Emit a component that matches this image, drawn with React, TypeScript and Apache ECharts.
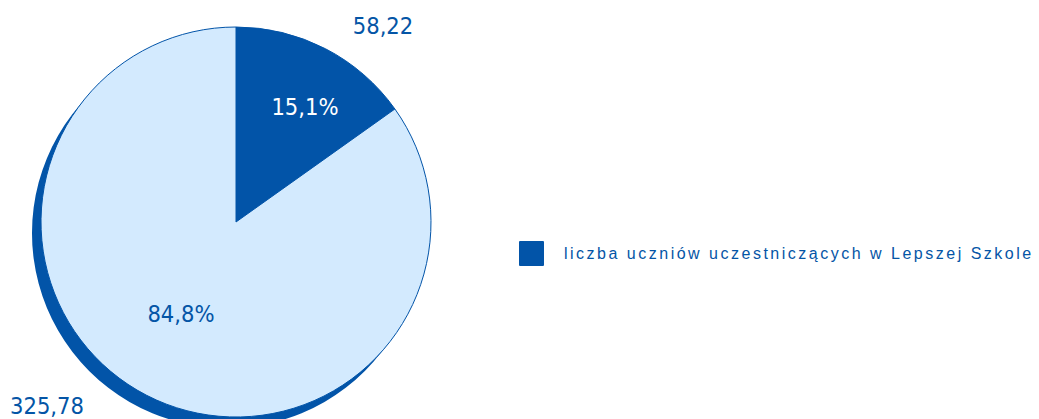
import React, { useEffect, useRef } from "react";
import * as echarts from "echarts";

const categories = [
  "liczba uczniów uczestniczących w Lepszej Szkole",
  "pozostali uczniowie",
];
const values = [58.22, 325.78];
const percentLabels = ["15,1%", "84,8%"];
const legendItems = [categories[0]];

const DARK = "#0254A8";
const LIGHT = "#D3EAFE";
const TEXT = "#0455A6";

const CENTER = [236, 222];
const RADIUS = 195;
const SHADOW_CENTER = [227, 233];
const percentPos = [
  [305, 107],
  [181, 314],
];
const valuePos = [
  [383, 26],
  [47, 406],
];

const labelFont = "'DejaVu Sans Condensed', 'DejaVu Sans', sans-serif";

export default function App() {
  const ref = useRef<HTMLDivElement>(null);
  useEffect(() => {
    if (!ref.current) return;
    const chart = echarts.init(ref.current, undefined, { renderer: "svg" });
    const colors = [DARK, LIGHT];
    const total = values.reduce((a, b) => a + b, 0);
    chart.setOption({
      animation: false,
      backgroundColor: "#ffffff",
      legend: {
        data: legendItems,
        left: 519,
        top: 241,
        padding: 0,
        itemWidth: 23,
        itemHeight: 23,
        icon: "rect",
        selectedMode: false,
        textStyle: {
          color: TEXT,
          fontSize: 16,
          fontFamily: "'Liberation Sans', Arial, sans-serif",
          padding: [0, 0, 0, 16],
        },
      },
      series: [
        {
          type: "pie",
          silent: true,
          center: SHADOW_CENTER,
          radius: RADIUS,
          label: { show: false },
          labelLine: { show: false },
          itemStyle: { color: DARK },
          data: [{ name: "cień", value: total }],
          z: 1,
        },
        {
          type: "pie",
          center: CENTER,
          radius: RADIUS,
          startAngle: 90,
          clockwise: true,
          avoidLabelOverlap: false,
          z: 2,
          itemStyle: { borderColor: DARK, borderWidth: 1 },
          label: {
            show: true,
            position: "inside",
            fontFamily: labelFont,
            fontSize: 23.5,
            formatter: (p: any) => percentLabels[p.dataIndex],
          },
          labelLine: { show: false },
          labelLayout: (p: any) => ({
            x: percentPos[p.dataIndex][0],
            y: percentPos[p.dataIndex][1],
            align: "center",
            verticalAlign: "middle",
          }),
          data: categories.map((c, i) => ({
            name: c,
            value: values[i],
            itemStyle: { color: colors[i] },
            label: { color: i === 0 ? "#ffffff" : TEXT },
          })),
          emphasis: { disabled: true },
        },
        {
          type: "pie",
          silent: true,
          center: CENTER,
          radius: RADIUS,
          startAngle: 90,
          avoidLabelOverlap: false,
          z: 3,
          itemStyle: { color: "rgba(0,0,0,0)" },
          label: {
            show: true,
            position: "outside",
            color: TEXT,
            fontFamily: labelFont,
            fontSize: 23.5,
            formatter: (p: any) => p.value.toFixed(2).replace(".", ","),
          },
          labelLine: { show: false },
          labelLayout: (p: any) => ({
            x: valuePos[p.dataIndex][0],
            y: valuePos[p.dataIndex][1],
            align: "center",
            verticalAlign: "middle",
          }),
          data: categories.map((c, i) => ({ name: c + " ", value: values[i] })),
        },
      ],
    });
    // widen the legend caption to match the spaced lettering of the reference
    const texts = ref.current.querySelectorAll("text");
    texts.forEach((t) => {
      if ((t.textContent || "").startsWith("liczba")) {
        t.setAttribute("letter-spacing", "2.5");
      }
    });
    return () => chart.dispose();
  }, []);
  return (
    <div
      ref={ref}
      style={{ position: "fixed", left: 0, top: 0, width: 1039, height: 419 }}
    />
  );
}
